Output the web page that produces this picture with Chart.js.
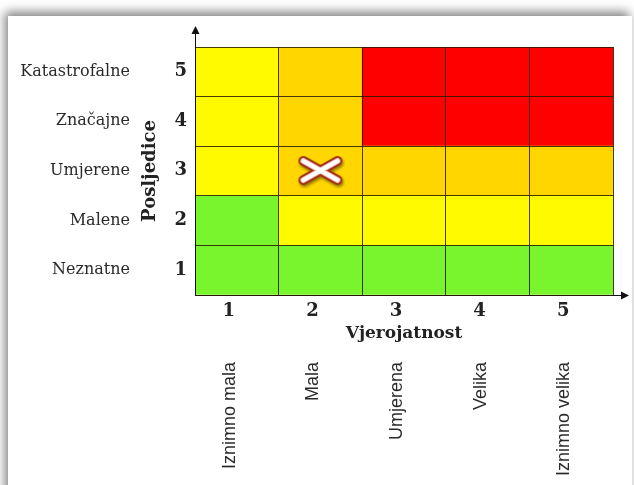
<!DOCTYPE html>
<html>
<head>
<meta charset="utf-8">
<script src="https://cdn.jsdelivr.net/npm/chart.js@4"></script>
<style>
  html, body { margin: 0; padding: 0; background: #fff; overflow: hidden; }
  #panel {
    position: absolute; left: 8px; top: 16px; width: 624px; height: 500px;
    background: #fff; box-shadow: -3px -4px 10px rgba(0, 0, 0, 0.5);
  }
  #chart { position: absolute; left: 0; top: 0; }
</style>
</head>
<body>
<div id="panel"></div>
<canvas id="chart" width="634" height="485"></canvas>
<script>
// probability (x) and consequence (y) scales
const probabilityLevels = ['1', '2', '3', '4', '5'];
const probabilityNames = ['Iznimno mala', 'Mala', 'Umjerena', 'Velika', 'Iznimno velika'];
const consequenceLevels = ['1', '2', '3', '4', '5'];
const consequenceNames = ['Neznatne', 'Malene', 'Umjerene', 'Značajne', 'Katastrofalne'];

// risk level of each cell, one array per consequence row (1 = low ... 4 = extreme)
const riskC1 = [1, 1, 1, 1, 1];
const riskC2 = [1, 2, 2, 2, 2];
const riskC3 = [2, 3, 3, 3, 3];
const riskC4 = [2, 3, 4, 4, 4];
const riskC5 = [2, 3, 4, 4, 4];

// assessed risk (the X mark)
const assessedProbability = '2';
const assessedConsequence = 3;

const RISK_COLORS = { 1: '#79f52e', 2: '#fffa00', 3: '#ffd600', 4: '#fe0000' };
const SERIF = "'DejaVu Serif', serif";
const LINE = 'rgba(40,25,0,0.85)';

function crossImage() {
  const c = document.createElement('canvas');
  c.width = 50; c.height = 36;
  const g = c.getContext('2d');
  g.lineCap = 'round';
  g.shadowColor = 'rgba(0,0,0,0.45)';
  g.shadowOffsetX = 1; g.shadowOffsetY = 2; g.shadowBlur = 3;
  const strokeX = () => {
    g.beginPath();
    g.moveTo(8, 8); g.lineTo(42, 27);
    g.moveTo(8, 27); g.lineTo(42, 8);
    g.stroke();
  };
  g.strokeStyle = '#a3301a'; g.lineWidth = 10; strokeX();
  g.shadowColor = 'transparent';
  g.strokeStyle = '#f2c4b8'; g.lineWidth = 6; strokeX();
  g.strokeStyle = '#ffffff'; g.lineWidth = 4; strokeX();
  return c;
}

const rows = [riskC1, riskC2, riskC3, riskC4, riskC5];

const datasets = rows.map((row, i) => ({
  type: 'bar',
  label: consequenceNames[i],
  data: row.map(() => 1),
  backgroundColor: row.map(r => RISK_COLORS[r]),
  borderWidth: 0,
  barPercentage: 1,
  categoryPercentage: 1,
  order: 1
}));

datasets.push({
  type: 'line',
  label: 'Procjena',
  data: probabilityLevels.map(p => p === assessedProbability ? assessedConsequence - 0.5 : null),
  showLine: false,
  pointStyle: crossImage(),
  pointRadius: 20,
  order: 0
});

const axisArrows = {
  id: 'axisArrows',
  afterDraw(chart) {
    const { left, right, top, bottom } = chart.chartArea;
    const ctx = chart.ctx;
    ctx.save();
    ctx.strokeStyle = '#111';
    ctx.fillStyle = '#111';
    ctx.lineWidth = 1;
    ctx.beginPath();
    ctx.moveTo(left + 0.5, top);
    ctx.lineTo(left + 0.5, top - 14);
    ctx.moveTo(right, bottom + 0.5);
    ctx.lineTo(right + 9, bottom + 0.5);
    ctx.stroke();
    ctx.beginPath();
    ctx.moveTo(left + 0.5, top - 21);
    ctx.lineTo(left - 3.5, top - 13);
    ctx.lineTo(left + 4.5, top - 13);
    ctx.closePath();
    ctx.fill();
    ctx.beginPath();
    ctx.moveTo(right + 16, bottom + 0.5);
    ctx.lineTo(right + 8, bottom - 3.5);
    ctx.lineTo(right + 8, bottom + 4.5);
    ctx.closePath();
    ctx.fill();
    ctx.restore();
  }
};

new Chart(document.getElementById('chart'), {
  type: 'bar',
  data: { labels: probabilityLevels, datasets },
  plugins: [axisArrows],
  options: {
    responsive: false,
    animation: false,
    layout: { padding: { top: 47, right: 15, left: 0, bottom: 0 } },
    plugins: { legend: { display: false }, tooltip: { enabled: false } },
    scales: {
      x: {
        stacked: true,
        grid: { display: true, offset: true, drawTicks: false, color: LINE, z: 1 },
        border: { display: true, color: '#111', z: 1 },
        ticks: { color: '#222', font: { family: SERIF, size: 18, weight: 'bold' }, padding: 6, labelOffset: -8 },
        title: { display: true, text: 'Vjerojatnost', color: '#222', font: { family: SERIF, size: 17, weight: 'bold' }, padding: { top: 0, bottom: 1 } },
        afterFit: s => { s.height = 50; }
      },
      x2: {
        type: 'category',
        position: 'bottom',
        labels: probabilityNames,
        offset: true,
        weight: 1,
        grid: { display: false, drawTicks: false },
        border: { display: false },
        ticks: {
          color: '#2a2a2a', font: { family: "'Liberation Sans', Arial, sans-serif", size: 18 },
          minRotation: 90, maxRotation: 90, autoSkip: false, padding: 17, labelOffset: -7
        },
        afterFit: s => { s.height = 140; }
      },
      y: {
        stacked: true,
        min: 0, max: 5,
        grid: { display: true, drawTicks: false, color: LINE, z: 1 },
        border: { display: true, color: '#111', z: 1 },
        ticks: {
          stepSize: 1, padding: 8, labelOffset: -25, color: '#222',
          font: { family: SERIF, size: 18, weight: 'bold' },
          callback: v => v < 5 ? consequenceLevels[v] : ''
        },
        title: { display: true, text: 'Posljedice', color: '#222', font: { family: SERIF, size: 18, weight: 'bold' }, padding: 0 },
        afterFit: s => { s.width = 55; }
      },
      y2: {
        type: 'linear',
        position: 'left',
        min: 0, max: 5,
        weight: 1,
        grid: { display: false, drawTicks: false },
        border: { display: false },
        ticks: {
          stepSize: 1, padding: 10, labelOffset: -25, color: '#2a2a2a',
          font: { family: SERIF, size: 16 },
          callback: v => v < 5 ? consequenceNames[v] : ''
        },
        afterFit: s => { s.width = 140; }
      }
    }
  }
});
</script>
</body>
</html>
